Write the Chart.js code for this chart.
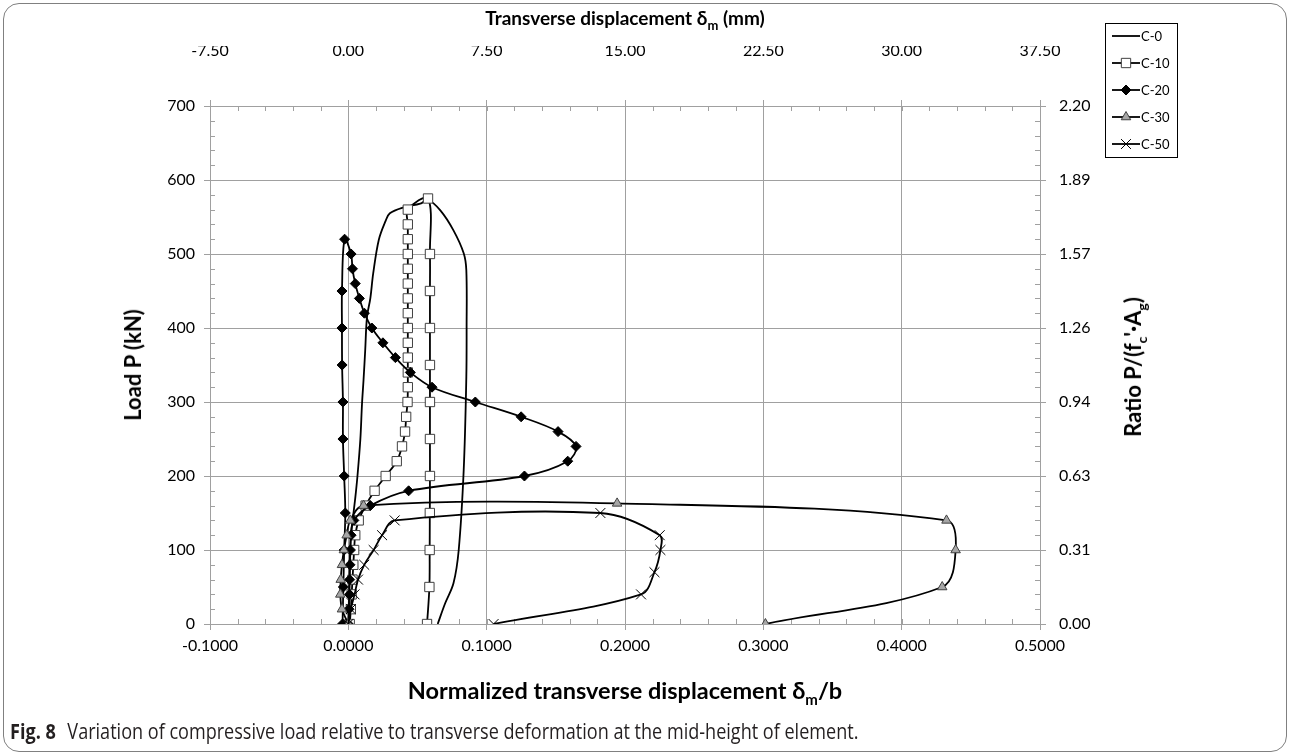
<!DOCTYPE html>
<html>
<head>
<meta charset="utf-8">
<title>Fig. 8</title>
<script src="https://cdn.jsdelivr.net/npm/chart.js"></script>
<style>
    html, body{margin:0; padding:0; background:#fff;}
    #wrap{position:relative; width:1290px; height:754px; overflow:hidden; font-family:Lato, "Open Sans", sans-serif; color:#000;}
    #frame{position:absolute; left:3px; top:3px; width:1284px; height:749px; border:1.5px solid #808080; border-radius:16px; box-sizing:border-box;}
    #fig{position:absolute; left:0; top:0;}
    .ttl{position:absolute; font-weight:bold; font-size:22px; white-space:nowrap; line-height:26px;}
    .ttl sub{font-size:14px; vertical-align:-6px; line-height:0;}
    .top-ttl{left:625px; top:7px; transform:translateX(-50%); font-size:19px; line-height:22px;}
    .top-ttl sub{font-size:13px; vertical-align:-5px;}
    .bot-ttl{left:625px; top:676px; transform:translateX(-50%); font-size:23.5px; line-height:28px;}
    .bot-ttl sub{font-size:15px;}
    .left-ttl{left:133px; top:365px; transform:translate(-50%,-50%) rotate(-90deg);}
    .right-ttl{left:1133px; top:367px; transform:translate(-50%,-50%) rotate(-90deg);}
    .caption{position:absolute; left:10px; top:719px; line-height:24px; font-family:"Open Sans", sans-serif; font-size:21px; white-space:nowrap; color:#231f20; transform:scaleX(0.86); transform-origin:0 50%;}
    .caption b{margin-right:8px;}
</style>
</head>
<body>
<div id="wrap">
    <div id="frame"></div>
    <canvas id="fig" width="1290" height="754"></canvas>
    <div class="ttl top-ttl">Transverse displacement &delta;<sub>m</sub> (mm)</div>
    <div class="ttl bot-ttl">Normalized transverse displacement &delta;<sub>m</sub>/b</div>
    <div class="ttl left-ttl">Load P (kN)</div>
    <div class="ttl right-ttl">Ratio P/(f<sub>c</sub>'&middot;A<sub>g</sub>)</div>
    <div class="caption"><b>Fig. 8</b> Variation of compressive load relative to transverse deformation at the mid-height of element.</div>
</div>

<script>
    // section width b (mm) and load that maps to the top of the ratio axis
    var widthB = 75;
    var loadMax = 700;
    var ratioMax = 2.2;

    // tick labels
    var normTicks = [-0.1, 0, 0.1, 0.2, 0.3, 0.4, 0.5];
    var mmTicks = [-7.5, 0, 7.5, 15, 22.5, 30, 37.5];
    var loadTicks = [0, 100, 200, 300, 400, 500, 600, 700];
    var ratioTicks = loadTicks.map(function(p){ return p / loadMax * ratioMax; });

    // normalized displacement (delta_m / b) and load P (kN) per specimen
    var c0Disp = [0.0000, 0.0005, 0.0010, 0.0018, 0.0034, 0.0050, 0.0066, 0.0087, 0.0099, 0.0110, 0.0122, 0.0135, 0.0159, 0.0180, 0.0220, 0.0268, 0.0300, 0.0400, 0.0520, 0.0576, 0.0665, 0.0760, 0.0834, 0.0853, 0.0855, 0.0853, 0.0834, 0.0798, 0.0760, 0.0700, 0.0646];
    var c0Load = [0, 40, 80, 120, 145, 170, 200, 250, 298, 330, 370, 415, 440, 474, 519, 544, 555, 563, 568, 573, 559, 532, 501, 478, 400, 334, 208, 100, 55, 28, 0];

    var c10Disp = [0.0010, 0.0018, 0.0024, 0.0030, 0.0036, 0.0042, 0.0050, 0.0075, 0.0125, 0.0190, 0.0270, 0.0350, 0.0388, 0.0410, 0.0418, 0.0428,
                   0.0430, 0.0430, 0.0430, 0.0430, 0.0430, 0.0430, 0.0430, 0.0430, 0.0430, 0.0430, 0.0430, 0.0430, 0.0430,
                   0.0576,
                   0.0590, 0.0590, 0.0590, 0.0590, 0.0590, 0.0590, 0.0590, 0.0589, 0.0588, 0.0586, 0.0569];
    var c10Load = [0, 20, 40, 60, 80, 100, 120, 140, 160, 180, 200, 220, 240, 260, 280, 300,
                   320, 340, 360, 380, 400, 420, 440, 460, 480, 500, 520, 540, 560,
                   575,
                   500, 450, 400, 350, 300, 250, 200, 150, 100, 50, 0];

    var c20Disp = [0.0000, 0.0005, 0.0008, 0.0010, 0.0012, 0.0015, 0.0020, 0.0040, 0.0159, 0.0436, 0.1273, 0.1586, 0.1646, 0.1516, 0.1249, 0.0918,
                   0.0605, 0.0448, 0.0340, 0.0250, 0.0170, 0.0116, 0.0080, 0.0050, 0.0030, 0.0020, -0.0027,
                   -0.0046, -0.0046, -0.0045, -0.0039, -0.0039, -0.0030, -0.0022, -0.0030, -0.0036, -0.0042];
    var c20Load = [0, 20, 40, 60, 80, 100, 120, 140, 160, 180, 200, 220, 240, 260, 280, 300,
                   320, 340, 360, 380, 400, 420, 440, 460, 480, 500, 520,
                   450, 400, 350, 300, 250, 200, 150, 100, 50, 0];

    var c30Disp = [0.0000, -0.0046, -0.0058, -0.0055, -0.0046, -0.0032, -0.0012, 0.0014, 0.0110, 0.1943, 0.4324, 0.4390, 0.4293, 0.3015];
    var c30Load = [0, 20, 40, 60, 80, 100, 120, 140, 160, 163, 140, 100, 50, 0];

    var c50Disp = [0.0000, 0.0018, 0.0045, 0.0070, 0.0115, 0.0183, 0.0244, 0.0335, 0.1822, 0.2251, 0.2256, 0.2213, 0.2116, 0.1050];
    var c50Load = [0, 20, 40, 60, 80, 100, 120, 140, 150, 120, 100, 70, 40, 0];

    var gridGray = '#a0a0a0';

    function toPoints(xs, ys){
        var pts = [];
        for(var i = 0; i < xs.length; i++){
            pts.push({x: xs[i], y: ys[i]});
        }
        return pts;
    }

    function series(label, xs, ys, extra){
        var ds = {
            label: label,
            data: toPoints(xs, ys),
            showLine: true,
            borderColor: '#000',
            borderWidth: 1.8,
            tension: 0.35,
            pointRadius: 0,
            pointBorderWidth: 1
        };
        for(var k in extra){ ds[k] = extra[k]; }
        return ds;
    }

    // small inward ticks between the labelled ones, on all four sides
    var minorTicks = {
        id: 'minorTicks',
        beforeDatasetsDraw: function(chart, args, opts){
            var ctx = chart.ctx, a = chart.chartArea;
            ctx.save();
            ctx.strokeStyle = opts.color;
            ctx.lineWidth = 1;
            ctx.beginPath();
            Object.keys(chart.scales).forEach(function(id){
                var s = chart.scales[id];
                var n = (s.ticks.length - 1) * opts.split;
                for(var i = 0; i <= n; i++){
                    var p = Math.round(s.getPixelForValue(s.min + (s.max - s.min) * i / n)) + 0.5;
                    if(s.position === 'bottom'){ ctx.moveTo(p, a.bottom); ctx.lineTo(p, a.bottom - opts.length); }
                    if(s.position === 'top'){ ctx.moveTo(p, a.top); ctx.lineTo(p, a.top + opts.length); }
                    if(s.position === 'left'){ ctx.moveTo(a.left, p); ctx.lineTo(a.left + opts.length, p); }
                    if(s.position === 'right'){ ctx.moveTo(a.right, p); ctx.lineTo(a.right - opts.length, p); }
                }
            });
            ctx.stroke();
            ctx.restore();
        }
    };

    // boxed legend with line + marker samples
    var legendBox = {
        id: 'legendBox',
        afterDraw: function(chart, args, opts){
            var ctx = chart.ctx;
            var sets = chart.data.datasets;
            ctx.save();
            ctx.fillStyle = '#fff';
            ctx.fillRect(opts.left, opts.top, opts.width, opts.height);
            ctx.strokeStyle = '#000';
            ctx.lineWidth = 1;
            ctx.strokeRect(opts.left + 0.5, opts.top + 0.5, opts.width, opts.height);
            ctx.font = '13px Lato, "Open Sans", sans-serif';
            ctx.textBaseline = 'middle';
            for(var i = 0; i < sets.length; i++){
                var ds = sets[i];
                var y = opts.top + opts.first + i * opts.row;
                var x0 = opts.left + 7, x1 = opts.left + 35;
                ctx.strokeStyle = ds.borderColor;
                ctx.lineWidth = ds.borderWidth;
                ctx.beginPath();
                ctx.moveTo(x0, y);
                ctx.lineTo(x1, y);
                ctx.stroke();
                if(ds.pointRadius > 0){
                    ctx.fillStyle = ds.pointBackgroundColor || '#000';
                    ctx.strokeStyle = ds.pointBorderColor || '#000';
                    ctx.lineWidth = ds.pointBorderWidth;
                    Chart.helpers.drawPoint(ctx, {pointStyle: ds.pointStyle, radius: ds.pointRadius, rotation: 0, borderWidth: ds.pointBorderWidth}, (x0 + x1) / 2, y);
                }
                ctx.fillStyle = '#000';
                ctx.fillText(ds.label, x1 + 1, y + 1);
            }
            ctx.restore();
        }
    };

    Chart.defaults.font.family = 'Lato, "Open Sans", sans-serif';
    Chart.defaults.color = '#000';

    var ctx = document.getElementById('fig').getContext('2d');
    var chart = new Chart(ctx, {
        type: 'scatter',
        data: {
            datasets: [
                series('C-0', c0Disp, c0Load, {order: 5}),
                series('C-10', c10Disp, c10Load, {order: 4, pointStyle: 'rect', pointRadius: 6.6, pointBackgroundColor: '#fff', pointBorderColor: '#404040'}),
                series('C-20', c20Disp, c20Load, {order: 3, pointStyle: 'rectRot', pointRadius: 5, pointBackgroundColor: '#000', pointBorderColor: '#000'}),
                series('C-30', c30Disp, c30Load, {order: 2, pointStyle: 'triangle', pointRadius: 5.5, pointBackgroundColor: '#a6a6a6', pointBorderColor: '#404040'}),
                series('C-50', c50Disp, c50Load, {order: 1, pointStyle: 'crossRot', pointRadius: 7, pointBackgroundColor: '#000', pointBorderColor: '#000'})
            ]
        },
        options: {
            responsive: false,
            animation: false,
            devicePixelRatio: 1,
            layout: {padding: {left: 150, right: 190, top: 46, bottom: 90}},
            plugins: {
                legend: {display: false},
                tooltip: {enabled: false},
                minorTicks: {split: 5, length: 5, color: gridGray},
                legendBox: {left: 1105, top: 23, width: 72, height: 134, first: 13, row: 27}
            },
            scales: {
                x: {
                    type: 'linear', position: 'bottom',
                    min: normTicks[0], max: normTicks[normTicks.length - 1],
                    afterBuildTicks: function(s){ s.ticks = normTicks.map(function(v){ return {value: v}; }); },
                    afterFit: function(s){ s.height = 40; },
                    ticks: {autoSkip: false, maxRotation: 0, padding: 6, font: {size: 16}, callback: function(v){ return v.toFixed(4); }},
                    grid: {color: gridGray, tickColor: gridGray, tickLength: 6},
                    border: {color: gridGray}
                },
                x2: {
                    type: 'linear', position: 'top',
                    min: mmTicks[0], max: mmTicks[mmTicks.length - 1],
                    afterBuildTicks: function(s){ s.ticks = mmTicks.map(function(v){ return {value: v}; }); },
                    afterFit: function(s){ s.height = 60; },
                    ticks: {autoSkip: false, maxRotation: 0, padding: 40, font: {size: 16}, callback: function(v){ return v.toFixed(2); }},
                    grid: {drawOnChartArea: false, color: gridGray, tickColor: gridGray, tickLength: 6},
                    border: {color: gridGray}
                },
                y: {
                    type: 'linear', position: 'left',
                    min: 0, max: loadMax,
                    afterBuildTicks: function(s){ s.ticks = loadTicks.map(function(v){ return {value: v}; }); },
                    afterFit: function(s){ s.width = 60; },
                    ticks: {autoSkip: false, padding: 9, font: {size: 16}, callback: function(v){ return String(v); }},
                    grid: {color: gridGray, tickColor: gridGray, tickLength: 6},
                    border: {color: gridGray}
                },
                y2: {
                    type: 'linear', position: 'right',
                    min: 0, max: ratioMax,
                    afterBuildTicks: function(s){ s.ticks = ratioTicks.map(function(v){ return {value: v}; }); },
                    afterFit: function(s){ s.width = 60; },
                    ticks: {autoSkip: false, padding: 13, font: {size: 16}, callback: function(v){ return v.toFixed(2); }},
                    grid: {drawOnChartArea: false, color: gridGray, tickColor: gridGray, tickLength: 6},
                    border: {color: gridGray}
                }
            }
        },
        plugins: [minorTicks, legendBox]
    });
</script>
</body>
</html>
